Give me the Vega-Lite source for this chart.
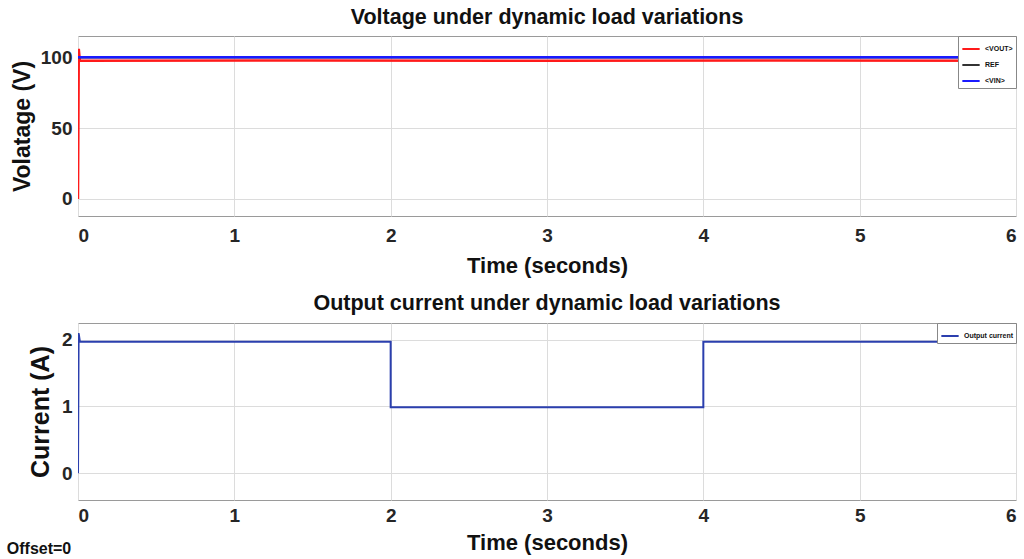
{
  "$schema": "https://vega.github.io/schema/vega-lite/v6.json",
  "background": "white",
  "padding": {"left": 6, "top": 6, "right": 6, "bottom": 2},
  "spacing": 15,
  "title": {"text": "Offset=0", "orient": "bottom", "anchor": "start", "fontSize": 16, "fontWeight": "bold", "font": "Liberation Sans", "color": "#111", "offset": -13, "dx": -4},
  "config": {
    "font": "Liberation Sans",
    "view": {"stroke": "#9a9a9a", "strokeWidth": 1},
    "axis": {"labelFont": "Liberation Sans", "titleFont": "Liberation Sans", "labelFontSize": 19, "labelFontWeight": "bold", "labelColor": "#262626", "titleFontSize": 22, "titleFontWeight": "bold", "titleColor": "#111", "gridColor": "#dcdcdc", "gridWidth": 1, "domain": false, "ticks": false},
    "title": {"fontSize": 21.5, "fontWeight": "bold", "font": "Liberation Sans", "color": "#111"},
    "legend": {"labelFontSize": 7, "labelFontWeight": "bold", "symbolType": "stroke", "symbolSize": 300, "symbolStrokeWidth": 2, "strokeColor": "#888", "fillColor": "white", "padding": 3, "rowPadding": 2, "labelColor": "#111"}
  },
  "vconcat": [
    {
      "title": {"text": "Voltage under dynamic load variations", "offset": 7},
      "width": 938,
      "height": 180,
      "data": {"values": [
        {"t": 0, "v": 0, "s": "<VOUT>", "o": 1},
        {"t": 0.005, "v": 106, "s": "<VOUT>", "o": 2},
        {"t": 0.012, "v": 97.5, "s": "<VOUT>", "o": 3},
        {"t": 1.5, "v": 97.8, "s": "<VOUT>", "o": 4},
        {"t": 3, "v": 97.5, "s": "<VOUT>", "o": 5},
        {"t": 4.5, "v": 97.8, "s": "<VOUT>", "o": 6},
        {"t": 6, "v": 97.5, "s": "<VOUT>", "o": 7},
        {"t": 0, "v": 100, "s": "REF", "o": 1},
        {"t": 6, "v": 100, "s": "REF", "o": 2},
        {"t": 0, "v": 100, "s": "<VIN>", "o": 1},
        {"t": 6, "v": 100, "s": "<VIN>", "o": 2}
      ]},
      "mark": {"type": "line", "strokeWidth": 2.5, "clip": true},
      "encoding": {
        "x": {"field": "t", "type": "quantitative", "scale": {"domain": [0, 6], "nice": false}, "axis": {"values": [0, 1, 2, 3, 4, 5, 6], "title": "Time (seconds)", "labelPadding": 10, "titlePadding": 10}},
        "y": {"field": "v", "type": "quantitative", "scale": {"domain": [-12, 115], "nice": false, "zero": false}, "axis": {"values": [0, 50, 100], "title": "Volatage (V)", "titleFontSize": 23, "labelPadding": 6, "titlePadding": 6}},
        "color": {"field": "s", "type": "nominal", "scale": {"domain": ["<VOUT>", "REF", "<VIN>"], "range": ["#ff1a1a", "#333333", "#1a1aff"]}, "sort": ["<VOUT>", "REF", "<VIN>"], "legend": {"title": null, "orient": "top-right", "offset": 0}},
        "order": {"field": "o", "type": "quantitative"}
      }
    },
    {
      "title": {"text": "Output current under dynamic load variations", "offset": 8},
      "width": 938,
      "height": 177,
      "data": {"values": [
        {"t": 0, "i": 0, "s": "Output current", "o": 1},
        {"t": 0.004, "i": 2.1, "s": "Output current", "o": 2},
        {"t": 0.012, "i": 1.97, "s": "Output current", "o": 3},
        {"t": 2, "i": 1.97, "s": "Output current", "o": 4},
        {"t": 2, "i": 0.99, "s": "Output current", "o": 5},
        {"t": 4, "i": 0.99, "s": "Output current", "o": 6},
        {"t": 4, "i": 1.97, "s": "Output current", "o": 7},
        {"t": 6, "i": 1.97, "s": "Output current", "o": 8}
      ]},
      "mark": {"type": "line", "strokeWidth": 2, "clip": true},
      "encoding": {
        "x": {"field": "t", "type": "quantitative", "scale": {"domain": [0, 6], "nice": false}, "axis": {"values": [0, 1, 2, 3, 4, 5, 6], "title": "Time (seconds)", "labelPadding": 6, "titlePadding": 7}},
        "y": {"field": "i", "type": "quantitative", "scale": {"domain": [-0.4, 2.25], "nice": false, "zero": false}, "axis": {"values": [0, 1, 2], "title": "Current (A)", "titleFontSize": 25, "labelPadding": 6, "titlePadding": 8}},
        "color": {"field": "s", "type": "nominal", "scale": {"domain": ["Output current"], "range": ["#2b3fae"]}, "legend": {"title": null, "orient": "top-right", "offset": 0}},
        "order": {"field": "o", "type": "quantitative"}
      }
    }
  ],
  "resolve": {"scale": {"color": "independent"}, "legend": {"color": "independent"}}
}
